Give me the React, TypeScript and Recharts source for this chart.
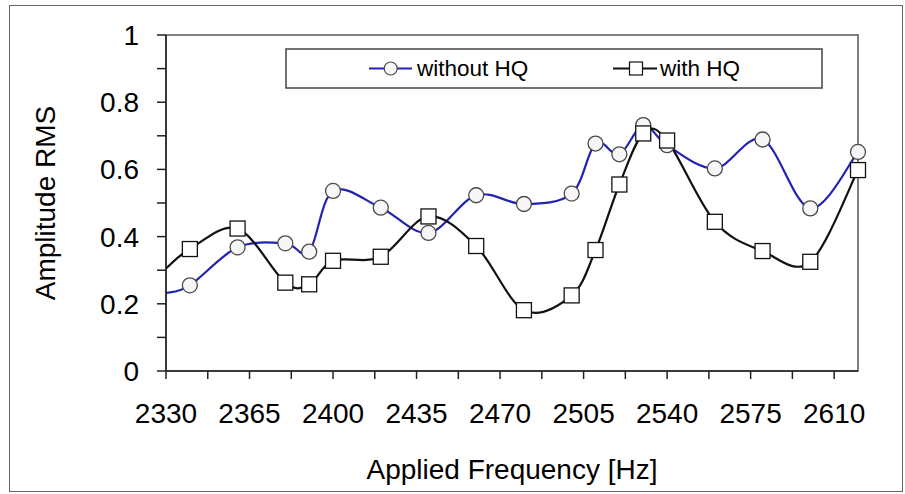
import React from 'react';
import { LineChart, Line, XAxis, YAxis, ReferenceArea } from 'recharts';

const frequencies = [2330, 2340, 2360, 2380, 2390, 2400, 2420, 2440, 2460, 2480, 2500, 2510, 2520, 2530, 2540, 2560, 2580, 2600, 2620];
const withoutHQ = [0.232, 0.255, 0.368, 0.38, 0.355, 0.536, 0.486, 0.411, 0.523, 0.497, 0.528, 0.677, 0.645, 0.732, 0.672, 0.603, 0.689, 0.484, 0.652];
const withHQ = [0.305, 0.363, 0.424, 0.263, 0.258, 0.328, 0.34, 0.46, 0.372, 0.181, 0.225, 0.36, 0.555, 0.707, 0.686, 0.444, 0.357, 0.325, 0.598];

const xTickValues = [2330, 2347.5, 2365, 2382.5, 2400, 2417.5, 2435, 2452.5, 2470, 2487.5, 2505, 2522.5, 2540, 2557.5, 2575, 2592.5, 2610];
const xTickLabels = [2330, 2365, 2400, 2435, 2470, 2505, 2540, 2575, 2610];
const yTickValues = [0, 0.1, 0.2, 0.3, 0.4, 0.5, 0.6, 0.7, 0.8, 0.9, 1];
const yTickLabels = [0, 0.2, 0.4, 0.6, 0.8, 1];

const seriesNames = ['without HQ', 'with HQ'];
const xTitle = 'Applied Frequency [Hz]';
const yTitle = 'Amplitude RMS';

const FONT = "'Liberation Sans', Arial, sans-serif";
const BLUE = '#2222b4';

const data = frequencies.map((f, i) => ({ freq: f, without: withoutHQ[i], with: withHQ[i] }));

// Excel-like smoothed line (Catmull-Rom style Bezier)
const excelCurve: any = (context: any) => {
  let pts: number[][] = [];
  return {
    areaStart() {},
    areaEnd() {},
    lineStart() {
      pts = [];
    },
    lineEnd() {
      if (!pts.length) return;
      context.moveTo(pts[0][0], pts[0][1]);
      for (let i = 0; i < pts.length - 1; i++) {
        const p0 = pts[i - 1] || pts[i];
        const p1 = pts[i];
        const p2 = pts[i + 1];
        const p3 = pts[i + 2] || p2;
        const c1x = p1[0] + (p2[0] - p0[0]) / 6;
        const c1y = p1[1] + (p2[1] - p0[1]) / 6;
        const c2x = p2[0] - (p3[0] - p1[0]) / 6;
        const c2y = p2[1] - (p3[1] - p1[1]) / 6;
        context.bezierCurveTo(c1x, c1y, c2x, c2y, p2[0], p2[1]);
      }
    },
    point(x: number, y: number) {
      pts.push([+x, +y]);
    },
  };
};

const renderCircle = (props: any) => {
  const { cx, cy, index, payload } = props;
  if (!payload || payload.freq <= frequencies[0]) return <g key={`c-${index}`} />;
  return <circle key={`c-${index}`} cx={cx} cy={cy} r={7.5} fill="#f6f6f6" stroke="#4a4a4a" strokeWidth={1.3} />;
};

const renderSquare = (props: any) => {
  const { cx, cy, index, payload } = props;
  if (!payload || payload.freq <= frequencies[0]) return <g key={`s-${index}`} />;
  return <rect key={`s-${index}`} x={cx - 7.5} y={cy - 7.5} width={15} height={15} fill="#ffffff" stroke="#111" strokeWidth={1.3} />;
};

const fmtX = (v: number) => (xTickLabels.includes(v) ? String(v) : '');
const fmtY = (v: number) => {
  const r = Math.round(v * 10) / 10;
  return yTickLabels.includes(r) ? String(r) : '';
};

const XTitle = (props: any) => {
  const vb = props.viewBox || { x: 166, y: 371, width: 692, height: 123 };
  return (
    <text x={vb.x + vb.width / 2} y={vb.y + 108} textAnchor="middle" fontSize={28} fontFamily={FONT} fill="#000">
      {xTitle}
    </text>
  );
};

const YTitle = (props: any) => {
  const vb = props.viewBox || { x: 0, y: 35, width: 166, height: 336 };
  const cx = vb.x + 55;
  const cy = vb.y + vb.height / 2;
  return (
    <text transform={`translate(${cx},${cy}) rotate(-90)`} textAnchor="middle" fontSize={28} fontFamily={FONT} fill="#000">
      {yTitle}
    </text>
  );
};

const LegendBox = () => (
  <svg width={905} height={494} style={{ position: 'absolute', left: 0, top: 0, pointerEvents: 'none' }}>
    <rect x={286} y={49} width={536} height={39} fill="#fff" stroke="#444" strokeWidth={1.5} />
    <line x1={369} x2={412} y1={68.5} y2={68.5} stroke={BLUE} strokeWidth={2} />
    <circle cx={390.7} cy={68.5} r={6.5} fill="#f6f6f6" stroke="#4a4a4a" strokeWidth={1.2} />
    <text x={417} y={76} fontSize={22.5} fontFamily={FONT} fill="#000">{seriesNames[0]}</text>
    <line x1={613} x2={657} y1={68.5} y2={68.5} stroke="#111" strokeWidth={2} />
    <rect x={629.5} y={62} width={13} height={13} fill="#fff" stroke="#111" strokeWidth={1.2} />
    <text x={660} y={76} fontSize={22.5} fontFamily={FONT} fill="#000">{seriesNames[1]}</text>
  </svg>
);

export default function App() {
  return (
    <div style={{ position: 'absolute', left: 0, top: 0, width: 905, height: 494, background: '#fff', fontFamily: FONT, overflow: 'hidden' }}>
      <div style={{ position: 'absolute', left: 9, top: 5, width: 894, height: 487, boxSizing: 'border-box', border: '1.5px solid #666' }} />
      <div style={{ position: 'absolute', left: 0, top: 0 }}>
        <LineChart width={905} height={494} data={data} margin={{ top: 35, right: 47, bottom: 0, left: 0 }}>
          <ReferenceArea x1={2330} x2={2620} y1={0} y2={1} fill="none" stroke="#555" strokeWidth={1.5} />
          <XAxis
            dataKey="freq"
            type="number"
            domain={[2330, 2620]}
            ticks={xTickValues}
            tickFormatter={fmtX}
            interval={0}
            tickSize={8}
            tickMargin={24}
            height={123}
            stroke="#222"
            strokeWidth={1.5}
            tick={{ fill: '#000', fontSize: 28, fontFamily: FONT }}
            label={XTitle}
          />
          <YAxis
            type="number"
            domain={[0, 1]}
            ticks={yTickValues}
            tickFormatter={fmtY}
            interval={0}
            width={166}
            tickSize={9}
            tickMargin={18}
            stroke="#222"
            strokeWidth={1.5}
            tick={{ fill: '#000', fontSize: 28, fontFamily: FONT }}
            label={YTitle}
          />
          <Line dataKey="without" type={excelCurve} stroke={BLUE} strokeWidth={2.2} dot={renderCircle} activeDot={false} isAnimationActive={false} />
          <Line dataKey="with" type={excelCurve} stroke="#111" strokeWidth={2.2} dot={renderSquare} activeDot={false} isAnimationActive={false} />
        </LineChart>
      </div>
      <LegendBox />
    </div>
  );
}
